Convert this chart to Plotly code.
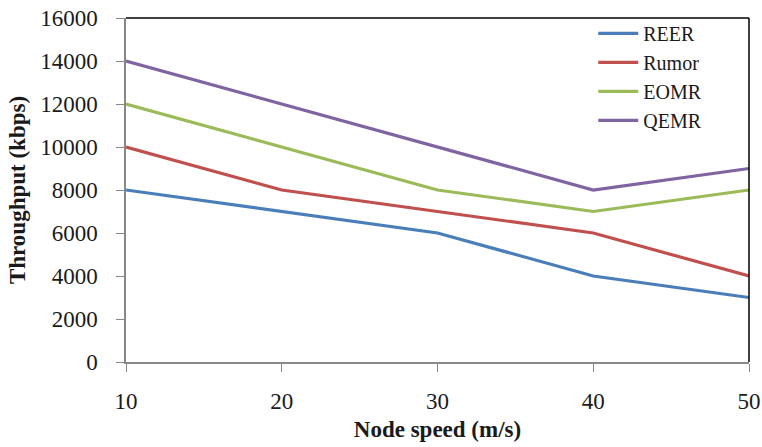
import plotly.graph_objects as go

speeds = [10, 20, 30, 40, 50]
reer = [8000, 7000, 6000, 4000, 3000]
rumor = [10000, 8000, 7000, 6000, 4000]
eomr = [12000, 10000, 8000, 7000, 8000]
qemr = [14000, 12000, 10000, 8000, 9000]
y_ticks = [0, 2000, 4000, 6000, 8000, 10000, 12000, 14000, 16000]

series = [("REER", reer, "#4A7EBB"), ("Rumor", rumor, "#C0504D"),
          ("EOMR", eomr, "#9BBB59"), ("QEMR", qemr, "#8064A2")]

FF = "Liberation Serif"
fig = go.Figure()
for name, vals, col in series:
    fig.add_trace(go.Scatter(x=speeds, y=vals, name=name, mode="lines",
                             line=dict(color=col, width=3.2)))

fig.update_layout(
    width=762, height=447,
    margin=dict(l=126, r=13, t=18, b=85),
    paper_bgcolor="white", plot_bgcolor="white",
    font=dict(family=FF, size=23, color="#1a1a1a"),
    showlegend=True,
    legend=dict(x=0.75, y=1.012, xanchor="left", yanchor="top",
                bgcolor="rgba(0,0,0,0)", font=dict(family=FF, size=20, color="#1a1a1a"),
                tracegroupgap=0, itemwidth=40),
    xaxis=dict(range=[10, 50], tickvals=speeds, showgrid=False, zeroline=False,
               automargin=False,
               showline=True, linecolor="#888", linewidth=1.5,
               ticks="outside", ticklen=8, tickcolor="#888", ticklabelstandoff=10,
               tickfont=dict(family=FF, size=23),
               title=dict(text="<b>Node speed (m/s)</b>", font=dict(family=FF, size=23), standoff=8)),
    yaxis=dict(range=[0, 16000], tickvals=y_ticks, tickformat="d", showgrid=False, zeroline=False,
               automargin=False,
               showline=True, linecolor="#888", linewidth=1.5,
               ticks="outside", ticklen=8, tickcolor="#888", ticklabelstandoff=14,
               tickfont=dict(family=FF, size=23),
               title=dict(text="<b>Throughput (kbps)</b>", font=dict(family=FF, size=23), standoff=8)),
    shapes=[
        dict(type="line", xref="paper", yref="paper", x0=0, x1=1, y0=1, y1=1,
             line=dict(color="black", width=1.5)),
        dict(type="line", xref="paper", yref="paper", x0=1, x1=1, y0=0, y1=1,
             line=dict(color="black", width=1.5)),
    ],
)
fig.write_html("out.html")
